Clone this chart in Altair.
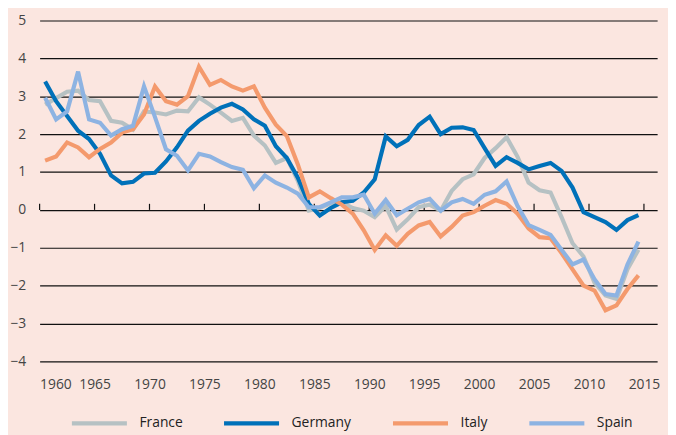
import altair as alt
import pandas as pd

years = list(range(1960, 2015))

france = [2.78, 2.95, 3.12, 3.15, 2.90, 2.87, 2.35, 2.30, 2.12, 2.60,
          2.57, 2.52, 2.62, 2.60, 2.97, 2.78, 2.57, 2.35, 2.43, 1.96,
          1.70, 1.24, 1.37, 0.77, -0.02, 0.05, 0.17, 0.20, 0.05, -0.02,
          -0.19, 0.10, -0.52, -0.25, 0.07, 0.14, -0.02, 0.50, 0.81, 0.94,
          1.37, 1.63, 1.92, 1.40, 0.72, 0.52, 0.46, -0.19, -0.88, -1.23,
          -1.92, -2.26, -2.35, -1.57, -1.05]

germany = [3.39, 2.87, 2.48, 2.09, 1.87, 1.48, 0.91, 0.70, 0.74, 0.96,
           0.98, 1.28, 1.65, 2.09, 2.35, 2.54, 2.70, 2.80, 2.65, 2.39,
           2.22, 1.68, 1.37, 0.85, 0.16, -0.15, 0.05, 0.20, 0.24, 0.46,
           0.81, 1.94, 1.68, 1.85, 2.24, 2.46, 2.00, 2.17, 2.18, 2.11,
           1.63, 1.16, 1.39, 1.24, 1.07, 1.16, 1.24, 1.03, 0.59, -0.06,
           -0.19, -0.32, -0.53, -0.27, -0.14]

italy = [1.30, 1.41, 1.78, 1.65, 1.39, 1.61, 1.78, 2.04, 2.13, 2.52,
         3.26, 2.87, 2.78, 3.00, 3.78, 3.30, 3.43, 3.26, 3.15, 3.26,
         2.70, 2.25, 1.95, 1.20, 0.33, 0.49, 0.31, 0.14, -0.10, -0.54,
         -1.06, -0.67, -0.95, -0.63, -0.41, -0.32, -0.70, -0.45, -0.15, -0.06,
         0.11, 0.26, 0.16, -0.10, -0.49, -0.72, -0.75, -1.14, -1.57, -2.00,
         -2.13, -2.65, -2.52, -2.09, -1.73]

spain = [2.96, 2.39, 2.60, 3.65, 2.39, 2.30, 1.96, 2.13, 2.22, 3.26,
         2.45, 1.60, 1.43, 1.04, 1.48, 1.41, 1.26, 1.13, 1.06, 0.57,
         0.91, 0.72, 0.59, 0.43, 0.07, 0.07, 0.20, 0.33, 0.33, 0.40,
         -0.10, 0.26, -0.14, 0.03, 0.20, 0.29, -0.02, 0.20, 0.29, 0.16,
         0.40, 0.49, 0.75, 0.10, -0.40, -0.53, -0.66, -1.05, -1.44, -1.31,
         -1.83, -2.22, -2.26, -1.44, -0.84]

countries = ["France", "Germany", "Italy", "Spain"]
colors = ["#b6c1c3", "#0071b9", "#f49a6d", "#8db3e2"]
tick_years = list(range(1960, 2016, 5))
y_ticks = list(range(-4, 6))

rows = []
for name, vals in zip(countries, [france, germany, italy, spain]):
    for yr, v in zip(years, vals):
        rows.append({"year": yr, "value": v, "country": name})
df = pd.DataFrame(rows)

font = "Open Sans"
x_scale = alt.Scale(domain=[1960, 2016.2], nice=False, zero=False)
y_scale = alt.Scale(domain=[-4, 5], nice=False, zero=False)
x_axis = alt.Axis(values=tick_years, format="d", grid=False, domain=False,
                  ticks=False, labelPadding=16, title=None, labelFontSize=14,
                  labelColor="#444444", labelFont=font)
y_axis = alt.Axis(values=y_ticks, grid=True, gridColor="#111111", gridWidth=1.2,
                  gridOpacity=1, domain=False, ticks=False, title=None,
                  labelPadding=14, labelFontSize=14, labelColor="#444444",
                  labelFont=font)

tick_df = pd.DataFrame({"year": tick_years})
ticks = alt.Chart(tick_df).mark_rule(color="#111111", strokeWidth=1.2).encode(
    x=alt.X("year:Q", scale=x_scale, axis=x_axis),
    y=alt.Y("y0:Q", scale=y_scale, axis=y_axis),
    y2="y1:Q",
).transform_calculate(y0="0", y1="0.16")

lines = alt.Chart(df).transform_calculate(
    xpos="datum.year + 0.5"
).mark_line(strokeWidth=4.2).encode(
    x=alt.X("xpos:Q", scale=x_scale, axis=x_axis),
    y=alt.Y("value:Q", scale=y_scale, axis=y_axis),
    color=alt.Color(
        "country:N",
        scale=alt.Scale(domain=countries, range=colors),
        legend=alt.Legend(
            title=None, orient="none", direction="horizontal",
            legendX=30, legendY=377, symbolType="stroke",
            symbolStrokeWidth=4.5, symbolSize=3100, labelFontSize=14,
            labelFont=font, labelColor="#222222", labelOffset=10,
            columnPadding=32,
        ),
    ),
)

chart = alt.layer(ticks, lines).properties(
    width=625, height=345,
    autosize=alt.AutoSizeParams(type="none"),
    padding={"left": 32, "top": 10, "right": 11, "bottom": 85},
    background="#fbe6e0",
).configure_view(stroke=None)

chart.save("out.html", embed_options={"renderer": "svg", "actions": False})
